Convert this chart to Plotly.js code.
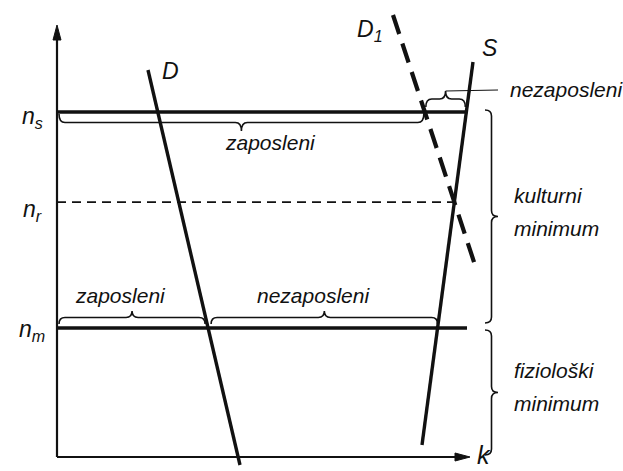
<!DOCTYPE html>
<html>
<head>
<meta charset="utf-8">
<script src="https://cdn.plot.ly/plotly-3.0.1.min.js"></script>
<style>
  body { margin: 0; background: #fff; }
  #chart { width: 623px; height: 471px; }
</style>
</head>
<body>
<div id="chart"></div>
<script>
// wage levels (n) on the vertical axis
const wageLabels = ['n<sub>s</sub>', 'n<sub>r</sub>', 'n<sub>m</sub>'];
const wageValues = [345, 254, 129];
const wageLineEnd = 410;

// demand / supply curves: top point and bottom point (k, n)
const curveNames = ['D', 'D<sub>1</sub>', 'S'];
const curveTopK = [91, 336, 416];
const curveTopN = [387, 442, 395];
const curveBottomK = [183, 418, 365];
const curveBottomN = [-8, 192, 12];

// axis ends
const axisKMax = 413;
const axisNMax = 432;

const ink = '#111';
const FONT = 'Liberation Sans, Arial, sans-serif';

// k where a curve hits level n
function curveAt(i, n) {
  const t = (n - curveTopN[i]) / (curveBottomN[i] - curveTopN[i]);
  return curveTopK[i] + t * (curveBottomK[i] - curveTopK[i]);
}

// where D1 meets S -> n_r
function crossing(i, j) {
  let lo = curveBottomN[j], hi = curveTopN[j];
  for (let s = 0; s < 60; s++) {
    const mid = (lo + hi) / 2;
    const f = curveAt(i, mid) - curveAt(j, mid);
    const fl = curveAt(i, lo) - curveAt(j, lo);
    if ((f > 0) === (fl > 0)) lo = mid; else hi = mid;
  }
  const n = (lo + hi) / 2;
  return { k: curveAt(j, n), n: n };
}

const P = (x, y) => x.toFixed(2) + ',' + y.toFixed(2);

// curly brace between two points, tip pushed along the normal by depth
function brace(x1, y1, x2, y2, nx, ny, depth) {
  const len = Math.hypot(x2 - x1, y2 - y1);
  const tx = (x2 - x1) / len, ty = (y2 - y1) / len;
  const r = Math.min(6, len / 4);
  const h = depth / 2;
  const mx = (x1 + x2) / 2, my = (y1 + y2) / 2;
  return 'M' + P(x1, y1) +
    ' Q' + P(x1 + nx * h, y1 + ny * h) + ' ' + P(x1 + nx * h + tx * r, y1 + ny * h + ty * r) +
    ' L' + P(mx + nx * h - tx * r, my + ny * h - ty * r) +
    ' Q' + P(mx + nx * h, my + ny * h) + ' ' + P(mx + nx * depth, my + ny * depth) +
    ' Q' + P(mx + nx * h, my + ny * h) + ' ' + P(mx + nx * h + tx * r, my + ny * h + ty * r) +
    ' L' + P(x2 + nx * h - tx * r, y2 + ny * h - ty * r) +
    ' Q' + P(x2 + nx * h, y2 + ny * h) + ' ' + P(x2, y2);
}

// thin filled arrowhead with its tip at (x, y), pointing along (dx, dy)
function arrowHead(x, y, dx, dy) {
  const L = 15, w = 4;
  const bx = x - dx * L, by = y - dy * L;
  return 'M' + P(x, y) + ' L' + P(bx - dy * w, by + dx * w) + ' L' + P(bx + dy * w, by - dx * w) + ' Z';
}

const ns = wageValues[0], nm = wageValues[2];
const eq = crossing(1, 2);   // D1 x S
const dAtNm = curveAt(0, nm);
const sAtNm = curveAt(2, nm);
const d1AtNs = curveAt(1, ns);
const sAtNs = curveAt(2, ns);

const traces = [
  { x: [0, wageLineEnd], y: [ns, ns], mode: 'lines', line: { color: ink, width: 3.4 } },
  { x: [0, eq.k], y: [eq.n, eq.n], mode: 'lines', line: { color: ink, width: 1.8, dash: '9px,6px' } },
  { x: [0, wageLineEnd], y: [nm, nm], mode: 'lines', line: { color: ink, width: 3.4 } },
  { x: [curveTopK[0], curveBottomK[0]], y: [curveTopN[0], curveBottomN[0]], mode: 'lines', line: { color: ink, width: 3.4 } },
  { x: [curveTopK[1], curveBottomK[1]], y: [curveTopN[1], curveBottomN[1]], mode: 'lines', line: { color: ink, width: 4.2, dash: '20px,10px' } },
  { x: [curveTopK[2], curveBottomK[2]], y: [curveTopN[2], curveBottomN[2]], mode: 'lines', line: { color: ink, width: 3.4 } }
];

const braceLine = { color: ink, width: 1.6 };
const shapes = [
  // axes
  { type: 'line', x0: 0, y0: 0, x1: 0, y1: axisNMax - 10, line: { color: ink, width: 2.2 } },
  { type: 'line', x0: 0, y0: 0, x1: axisKMax - 10, y1: 0, line: { color: ink, width: 2.2 } },
  { type: 'path', path: arrowHead(0, axisNMax, 0, 1), fillcolor: ink, line: { color: ink, width: 1 } },
  { type: 'path', path: arrowHead(axisKMax, 0, 1, 0), fillcolor: ink, line: { color: ink, width: 1 } },
  // braces on n_s
  { type: 'path', path: brace(2, ns - 2, d1AtNs - 1, ns - 2, 0, -1, 17), line: braceLine },
  { type: 'path', path: brace(d1AtNs + 1, ns + 5, sAtNs - 1, ns + 5, 0, 1, 16), line: braceLine },
  { type: 'line', x0: (d1AtNs + sAtNs) / 2, y0: ns + 21, x1: 441, y1: ns + 22, line: { color: ink, width: 1.2 } },
  // braces on n_m
  { type: 'path', path: brace(2, nm + 4, dAtNm - 3, nm + 4, 0, 1, 13), line: braceLine },
  { type: 'path', path: brace(dAtNm + 3, nm + 4, sAtNm, nm + 4, 0, 1, 13), line: braceLine },
  // right-hand braces
  { type: 'path', path: brace(428, ns + 2, 428, nm + 5, 1, 0, 13), line: braceLine },
  { type: 'path', path: brace(428, nm - 2, 428, 2, 1, 0, 13), line: braceLine }
];

const txt = (x, y, text, size, xanchor) => ({
  x: x, y: y, text: '<i>' + text + '</i>', showarrow: false,
  xanchor: xanchor || 'center', yanchor: 'middle',
  font: { family: FONT, size: size || 21, color: ink }
});

const annotations = [
  txt(axisKMax + 14, 2, 'k', 25),
  // level labels
  txt(-25, wageValues[0] - 5, wageLabels[0], 23),
  txt(-25, wageValues[1] - 7, wageLabels[1], 23),
  txt(-25, wageValues[2] - 2, wageLabels[2], 23),
  // curve labels
  txt(curveTopK[0] + 22, curveTopN[0] - 1, curveNames[0], 23),
  txt(curveTopK[1] - 23, curveTopN[1] - 15, curveNames[1], 23),
  txt(curveTopK[2] + 17, curveTopN[2] + 14, curveNames[2], 23),
  // group labels
  txt(213, 315, 'zaposleni'),
  txt(451, ns + 23, 'nezaposleni', 21, 'left'),
  txt(63, 162, 'zaposleni'),
  txt(256, 162, 'nezaposleni'),
  txt(455, 262, 'kulturni', 21, 'left'),
  txt(455, 229, 'minimum', 21, 'left'),
  txt(455, 87, 'fiziološki', 21, 'left'),
  txt(455, 54, 'minimum', 21, 'left')
];

const layout = {
  width: 623, height: 471,
  margin: { t: 0, b: 0, l: 0, r: 0 },
  paper_bgcolor: '#fff', plot_bgcolor: '#fff',
  showlegend: false,
  xaxis: { range: [-57, 566], visible: false, fixedrange: true },
  yaxis: { range: [-14, 457], visible: false, fixedrange: true },
  shapes: shapes,
  annotations: annotations
};

Plotly.newPlot('chart', traces, layout, { staticPlot: true, displayModeBar: false });
</script>
</body>
</html>
